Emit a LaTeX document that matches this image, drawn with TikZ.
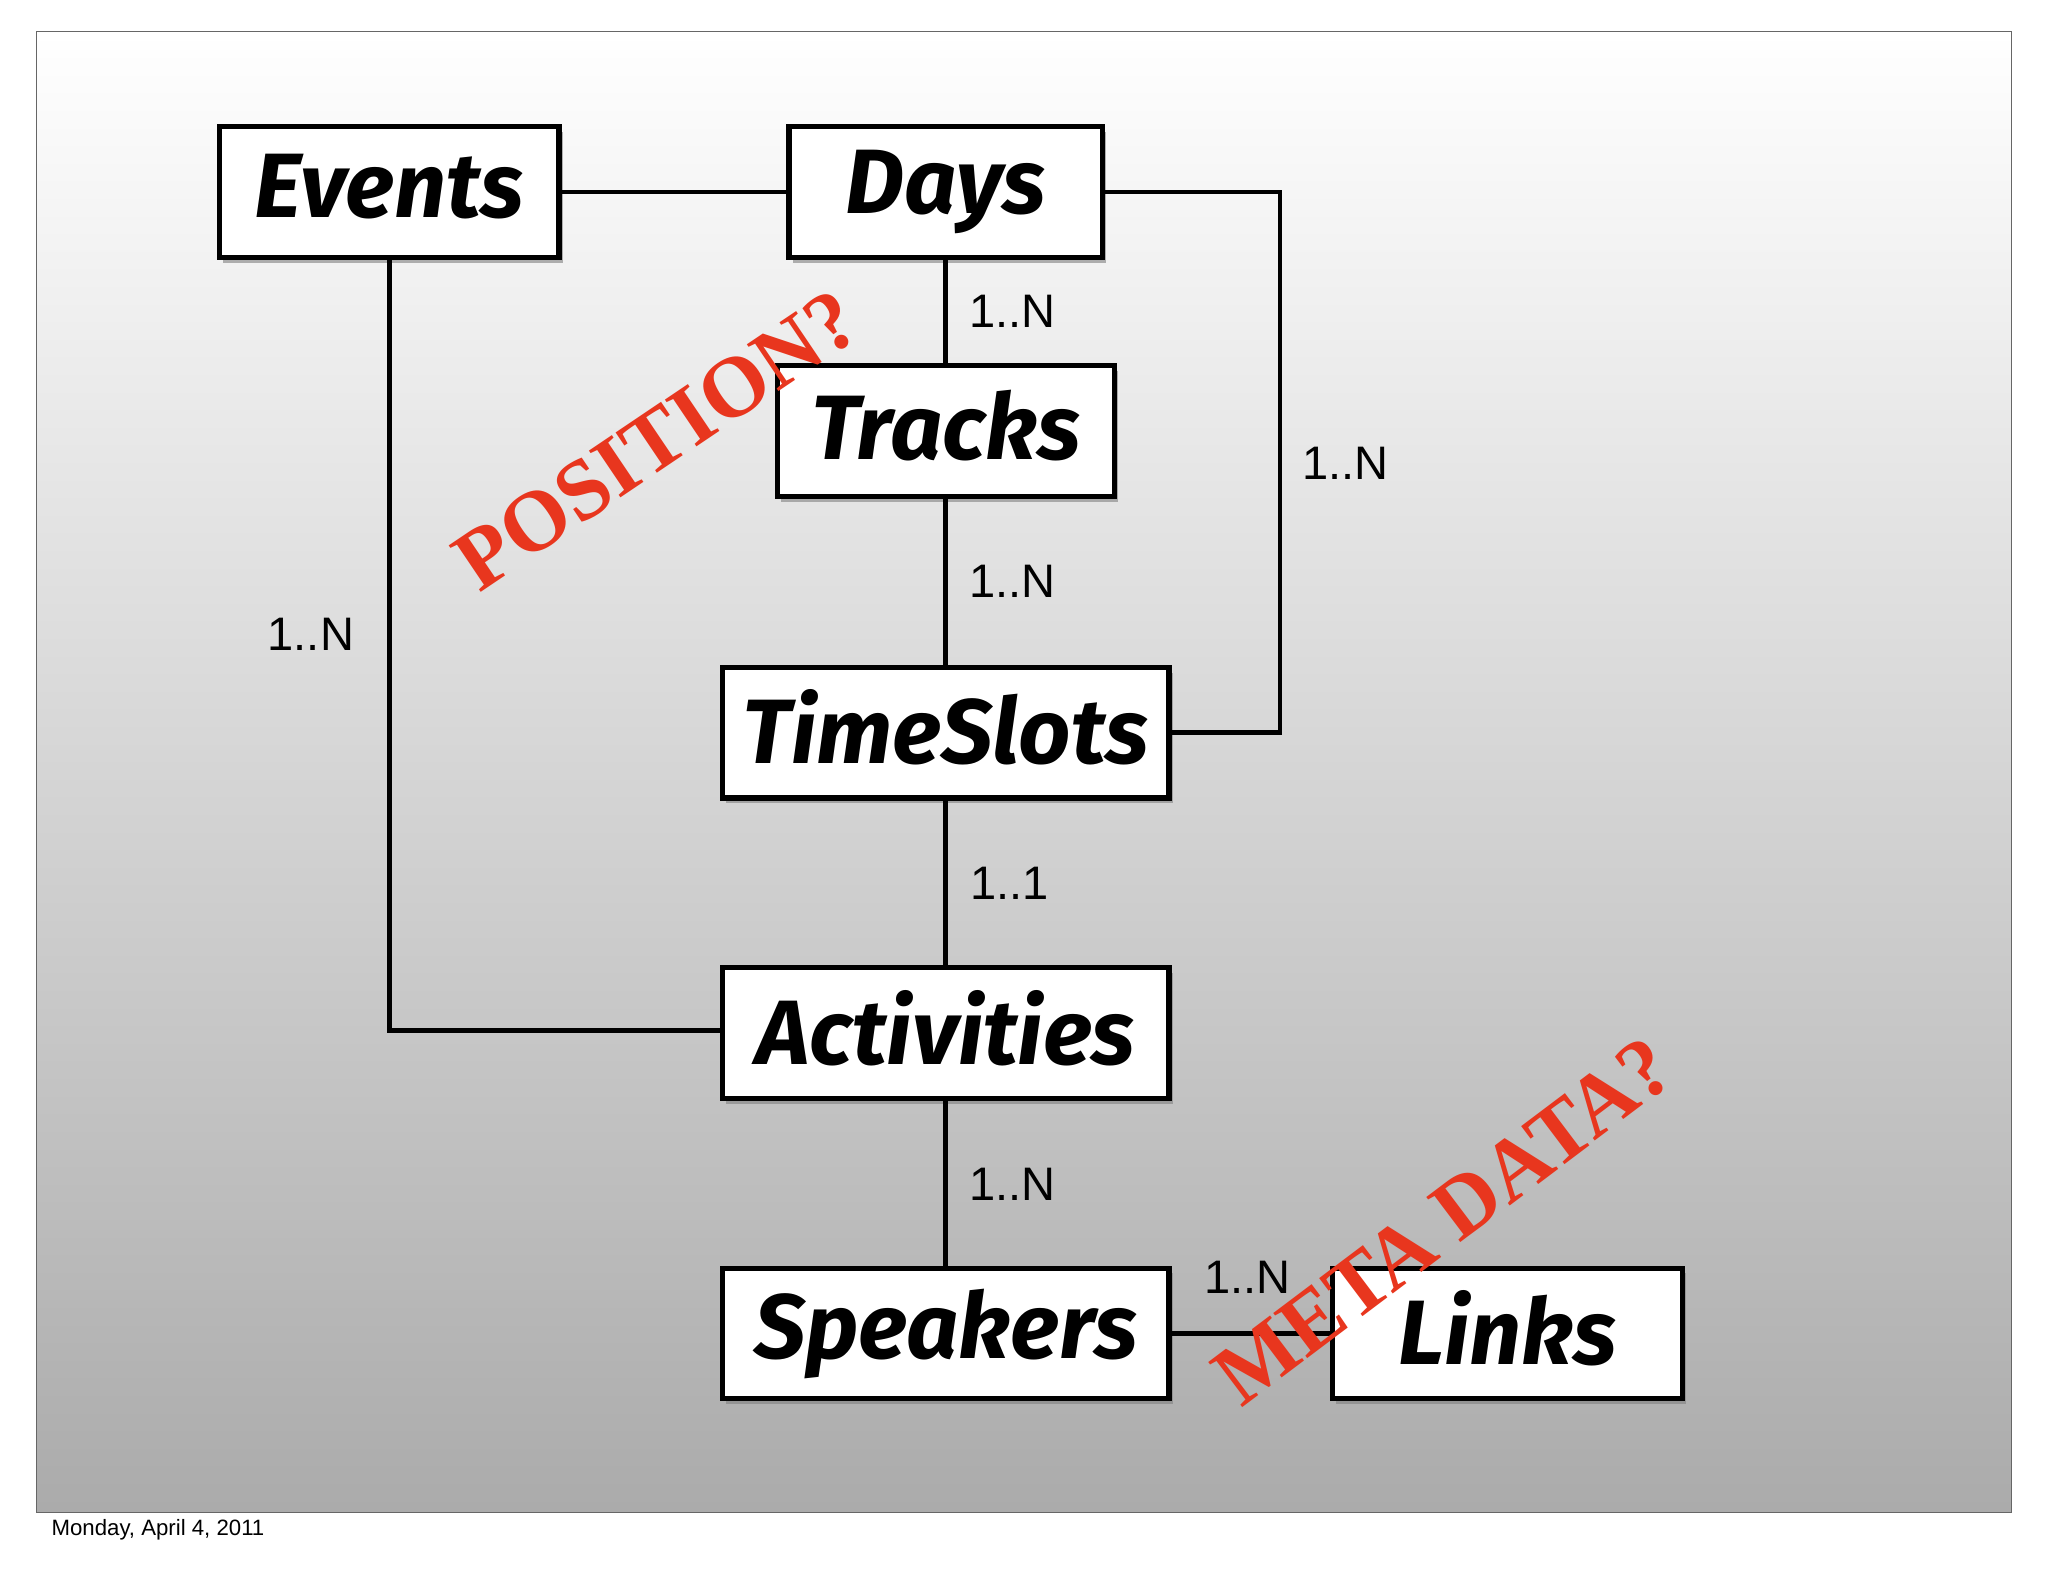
\documentclass[tikz,border=0pt]{standalone}
\usepackage{fontspec}
\setmainfont{Liberation Sans}
\newfontfamily\boxfont{Fira Sans}
\newfontfamily\stampfont{Liberation Serif}
\usetikzlibrary{shadows}
\definecolor{stamp}{HTML}{E8361E}
\newcommand{\bx}[1]{\raisebox{9pt}{#1}}
\begin{document}
\begin{tikzpicture}[x=1pt,y=-1pt,
  ent/.style={draw=black,line width=4pt,fill=white,minimum height=100pt,
    font=\boxfont\bfseries\itshape\fontsize{70}{70}\selectfont,
    drop shadow={shadow xshift=3pt,shadow yshift=-4pt,opacity=0.6}},
  conn/.style={line width=3.5pt},
  lab/.style={font=\fontsize{36}{36}\selectfont},
  stmp/.style={text=stamp,font=\stampfont\bfseries\fontsize{66}{66}\selectfont}]
\useasboundingbox[fill=white] (0,0) rectangle (1568,1211);
\shade[top color=white,bottom color=black!33,draw=black!60,line width=1pt] (28,24) rectangle (1540,1158);
\node[ent,minimum width=260pt] (ev) at (298,147) {\bx{Events}};
\node[ent,minimum width=240pt] (da) at (724,147) {\bx{Days}};
\node[ent,minimum width=258pt] (tr) at (724,330) {\bx{Tracks}};
\node[ent,minimum width=342pt] (ts) at (724,561) {\bx{TimeSlots}};
\node[ent,minimum width=342pt] (ac) at (724,791) {\bx{Activities}};
\node[ent,minimum width=342pt] (sp) at (724,1021) {\bx{Speakers}};
\node[ent,minimum width=268pt] (li) at (1154,1021) {\bx{Links}};
\draw[conn] (ev.east) -- (da.west);
\draw[conn] (da.east) -- (980,147) -- (980,561) -- (ts.east);
\draw[conn] (da.south) -- (tr.north);
\draw[conn] (tr.south) -- (ts.north);
\draw[conn] (ts.south) -- (ac.north);
\draw[conn] (ac.south) -- (sp.north);
\draw[conn] (ev.south) -- (298,789) -- (ac.west |- 0,789);
\draw[conn] (sp.east) -- (li.west);
\node[lab] (l1) at (775,238) {1..N};
\node[lab] (l2) at (1030,355) {1..N};
\node[lab] (l3) at (775,445) {1..N};
\node[lab] (l4) at (238,486) {1..N};
\node[lab] (l5) at (773,676) {1..1};
\node[lab] (l6) at (775,907) {1..N};
\node[lab] (l7) at (955,978) {1..N};
\node[stmp,rotate=34] (s1) at (503,337) {POSITION?};
\node[stmp,rotate=37] (s2) at (1105,935) {META DATA?};
\node[anchor=west,font=\fontsize{17}{17}\selectfont] (dt) at (36,1171) {Monday, April 4, 2011};
\end{tikzpicture}
\end{document}
